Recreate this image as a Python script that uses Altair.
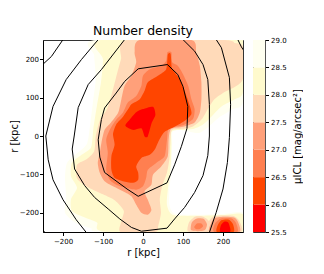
import altair as alt
import pandas as pd

# ---------------- data ----------------
# filled regions: area where mu_ICL < level   (x, y in kpc)
MU29_0 = [(-118,250),(250,250),(250,90),(225,70),(190,48),(165,25),(140,8),(115,12),(90,16),(74,12),(73,-20),(72,-60),(70,-100),(66,-140),(66,-180),(80,-203),(140,-205),(200,-203),(250,-200),(250,-250),(-100,-250),(-130,-240),(-170,-225),(-195,-200),(-192,-160),(-195,-110),(-190,-70),(-165,-45),(-140,-20),(-132,30),(-125,90),(-118,150),(-122,210)]
MU28_5 = [(-105,250),(250,250),(250,115),(228,95),(198,78),(175,55),(150,30),(125,18),(100,16),(72,12),(71,-20),(70,-60),(67,-100),(62,-140),(60,-180),(75,-206),(140,-208),(200,-206),(250,-204),(250,-250),(-90,-250),(-115,-225),(-150,-210),(-178,-195),(-180,-165),(-165,-135),(-180,-105),(-178,-70),(-155,-50),(-130,-30),(-124,20),(-115,80),(-105,140),(-100,200)]
MU28_0 = [(-40,250),(200,250),(230,242),(250,232),(250,150),(230,128),(200,112),(178,95),(162,70),(148,45),(125,25),(100,19),(72,15),(68,-20),(66,-60),(60,-95),(48,-130),(42,-165),(45,-200),(38,-235),(30,-250),(-55,-250),(-55,-225),(-48,-195),(-70,-168),(-100,-152),(-140,-132),(-165,-110),(-165,-75),(-140,-60),(-122,-40),(-118,0),(-108,40),(-90,70),(-78,110),(-68,150),(-55,200)]
MU27_5 = [(-8,250),(121,250),(133,218),(142,183),(146,140),(146,96),(142,61),(129,35),(100,24),(70,18),(64,-10),(62,-53),(46,-79),(25,-101),(21,-127),(4,-144),(12,-166),(21,-192),(12,-205),(-4,-200),(-17,-179),(-29,-157),(-50,-144),(-75,-131),(-96,-118),(-108,-96),(-113,-70),(-108,-44),(-104,-18),(-96,16),(-80,35),(-62,61),(-54,96),(-46,131),(-29,157),(-17,192),(-21,218)]
MU27_0 = [(-50,61),(-38,87),(-17,104),(-4,131),(0,157),(17,174),(46,183),(58,196),(61,218),(71,218),(73,192),(87,183),(100,161),(113,131),(121,96),(129,70),(125,44),(100,28),(65,20),(60,-10),(54,-53),(33,-70),(12,-88),(8,-109),(0,-131),(-17,-140),(-42,-135),(-67,-127),(-83,-114),(-92,-88),(-88,-44),(-92,-10),(-83,16),(-67,42)]
MU26_5 = [(-8,96),(4,118),(12,140),(37,157),(58,174),(62,212),(69,214),(72,178),(79,166),(92,148),(104,118),(117,79),(121,57),(105,40),(80,25),(55,12),(46,0),(37,-18),(29,-36),(17,-49),(-4,-57),(-17,-79),(-12,-96),(-12,-114),(-25,-122),(-50,-118),(-71,-109),(-79,-88),(-79,-53),(-71,-23),(-75,5),(-67,30),(-50,50),(-37,70),(-29,83)]
MU26_0 = [(-17,62),(0,70),(25,76),(31,55),(22,35),(12,-1),(4,-1),(-4,20),(-25,16),(-44,27),(-33,43)]

# blobs at the bottom right
BLOB_R_28_0 = [(160,-250),(163,-225),(175,-210),(200,-207),(225,-208),(240,-220),(245,-250)]
BLOB_R_27_5 = [(168,-250),(170,-228),(180,-213),(205,-210),(228,-212),(238,-225),(240,-250)]
BLOB_R_27_0 = [(178,-250),(180,-228),(195,-215),(220,-214),(232,-225),(235,-250)]
BLOB_R_26_5 = [(185,-250),(187,-232),(197,-219),(215,-218),(225,-230),(226,-250)]
BLOB_R_26_0 = [(193,-250),(195,-232),(203,-223),(213,-225),(218,-240),(217,-250)]
BLOB_L_28_0 = [(112,-248),(115,-225),(130,-210),(150,-210),(165,-222),(165,-248),(140,-250)]
BLOB_L_27_5 = [(120,-245),(122,-225),(135,-215),(152,-216),(160,-230),(155,-245),(138,-248)]
BLOB_L_27_0 = [(128,-237),(135,-228),(146,-228),(150,-235),(142,-242),(132,-242)]

# black contour lines
C1 = [(-12,175),(61,186),(87,160),(100,129),(112,77),(110,20),(96,-27),(79,-75),(60,-122),(-12,-157),(-40,-138),(-96,-95),(-108,-55),(-112,-10),(-104,43),(-96,73),(-67,112),(-46,142),(-12,175)]
C2 = [(-46,251),(-104,173),(-137,134),(-162,74),(-172,0),(-177,-34),(-171,-86),(-146,-129),(-121,-160),(-87,-190),(-58,-216),(-29,-238),(-4,-248),(60,-240),(79,-216),(104,-186),(129,-147),(150,-103),(162,-51),(166,0),(166,82),(162,147),(150,186),(129,221),(100,251)]
C3A = [(-112,251),(-154,199),(-192,147),(-225,77),(-243,0),(-237,-62),(-225,-114),(-200,-166),(-167,-218),(-142,-251)]
C3B = [(183,251),(196,230),(216,152),(219,82),(216,-4),(211,-69),(200,-138),(183,-199),(166,-251)]
C4A = [(-251,186),(-229,207),(-200,251)]
C4B = [(237,251),(246,232),(251,224)]
C4C = [(-251,-243),(-250,-244),(-246,-251)]

LEVELS = ["29.0", "28.5", "28.0", "27.5", "27.0", "26.5", "26.0"]
REGIONS = {
    "29.0": [MU29_0],
    "28.5": [MU28_5],
    "28.0": [MU28_0, BLOB_R_28_0, BLOB_L_28_0],
    "27.5": [MU27_5, BLOB_R_27_5, BLOB_L_27_5],
    "27.0": [MU27_0, BLOB_R_27_0, BLOB_L_27_0],
    "26.5": [MU26_5, BLOB_R_26_5],
    "26.0": [MU26_0, BLOB_R_26_0],
}
CONTOURS = [C1, C2, C3A, C3B, C4A, C4B, C4C]

CB_LO = [25.5, 26.0, 26.5, 27.0, 27.5, 28.0, 28.5]
CB_HI = [26.0, 26.5, 27.0, 27.5, 28.0, 28.5, 29.0]
CB_TICKS = [25.5, 26.0, 26.5, 27.0, 27.5, 28.0, 28.5, 29.0]
AX_TICKS = [-200, -100, 0, 100, 200]

# ---------------- styling ----------------
FILL_COLORS = {"29.0": "#fffff0", "28.5": "#fffacd", "28.0": "#ffdab9",
               "27.5": "#ffa07a", "27.0": "#ff7f50", "26.5": "#ff4500", "26.0": "#ff0000"}
CB_COLORS = ["#ff0000", "#ff4500", "#ff7f50", "#ffa07a", "#ffdab9", "#fffacd", "#fffff0"]
FONT = "DejaVu Sans"

rows = []
for lvl, polys in REGIONS.items():
    for pi, poly in enumerate(polys):
        for k, (x, y) in enumerate(poly):
            rows.append({"level": lvl, "poly": f"{lvl}_{pi}", "order": k, "x": x, "y": y})
reg_df = pd.DataFrame(rows)

crow = []
for ci, c in enumerate(CONTOURS):
    for k, (x, y) in enumerate(c):
        crow.append({"piece": ci, "order": k, "x": x, "y": y})
con_df = pd.DataFrame(crow)

xs = alt.Scale(domain=[-250, 250], nice=False, zero=False)
ys = alt.Scale(domain=[-250, 250], nice=False, zero=False)
minus = "replace(datum.label, '-', '\u2212')"
x_axis = alt.Axis(values=AX_TICKS, title="r [kpc]", grid=False, labelExpr=minus,
                  tickSize=3.5, labelFontSize=7, titleFontSize=10, titleFont=FONT, labelFont=FONT,
                  titleFontWeight="normal", labelColor="black", titleColor="black",
                  tickColor="black", domainColor="black", labelPadding=2, titlePadding=3)
y_axis = alt.Axis(values=AX_TICKS, title="r [kpc]", grid=False, labelExpr=minus,
                  tickSize=3.5, labelFontSize=7, titleFontSize=10, titleFont=FONT, labelFont=FONT,
                  titleFontWeight="normal", labelColor="black", titleColor="black",
                  tickColor="black", domainColor="black", labelPadding=1, titlePadding=0)

layers = []
for lvl in LEVELS:
    col = FILL_COLORS[lvl]
    layers.append(
        alt.Chart(reg_df).transform_filter(alt.datum.level == lvl)
        .mark_line(filled=True, fill=col, color=col, strokeWidth=0, interpolate="cardinal-closed",
                   tension=0.3, clip=True)
        .encode(x=alt.X("x:Q", scale=xs, axis=x_axis), y=alt.Y("y:Q", scale=ys, axis=y_axis),
                detail="poly:N", order="order:Q")
    )
lines = (alt.Chart(con_df).mark_line(color="black", strokeWidth=1.0, clip=True)
         .encode(x=alt.X("x:Q", scale=xs, axis=x_axis), y=alt.Y("y:Q", scale=ys, axis=y_axis),
                 detail="piece:N", order="order:Q"))

main = alt.layer(*layers, lines).properties(
    width=200, height=192,
    title=alt.TitleParams("Number density", fontSize=12.5, font=FONT, fontWeight="normal",
                          color="black", offset=3))

cb_df = pd.DataFrame({"lo": CB_LO, "hi": CB_HI})
cbar = alt.Chart(cb_df).mark_rect().encode(
    x=alt.value(0), x2=alt.value(12),
    y=alt.Y("lo:Q", scale=alt.Scale(domain=[25.5, 29.0], nice=False, zero=False),
            axis=alt.Axis(orient="right", values=CB_TICKS, format=".1f", grid=False,
                          title="\u03bcICL [mag/arcsec\u00b2]", titleAngle=270, titleBaseline="top",
                          tickSize=3.5, labelFontSize=7, titleFontSize=10, titleFont=FONT,
                          labelFont=FONT, titleFontWeight="normal", labelColor="black",
                          titleColor="black", tickColor="black", domainColor="#555",
                          labelPadding=2, titlePadding=6)),
    y2="hi:Q",
    color=alt.Color("lo:O", scale=alt.Scale(domain=CB_LO, range=CB_COLORS), legend=None),
).properties(width=12, height=192)

chart = alt.hconcat(main, cbar, spacing=8).properties(
    padding={"left": 0, "top": 16, "right": 0, "bottom": 0}
).configure_view(stroke="#333", strokeWidth=1)

chart.save("out.html", embed_options={"renderer": "svg", "actions": False})
